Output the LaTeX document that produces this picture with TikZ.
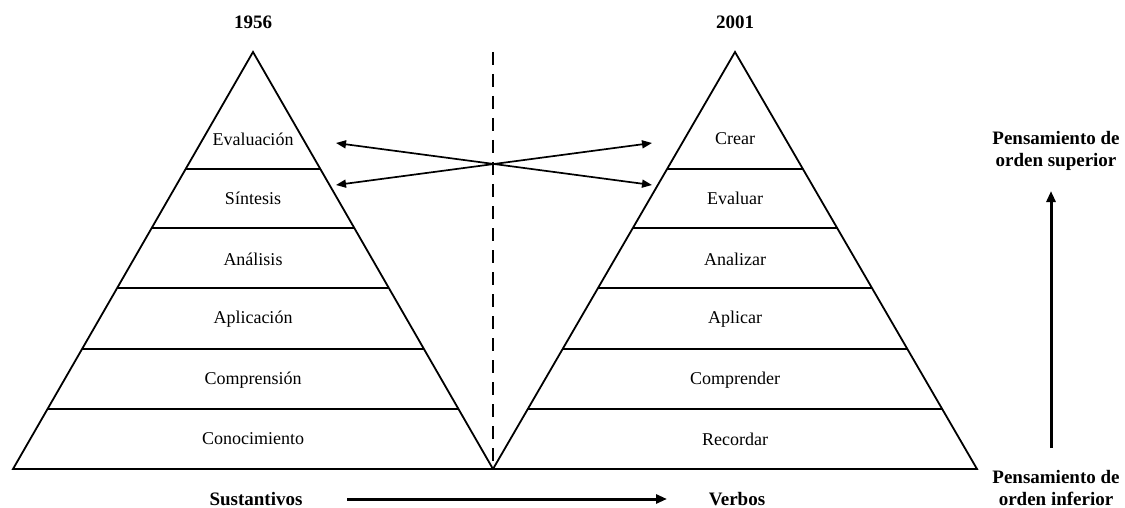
\documentclass[tikz,border=0pt]{standalone}
\usepackage{fontspec}
\setmainfont{Liberation Serif}
\usetikzlibrary{arrows.meta}
\begin{document}
\begin{tikzpicture}[x=1pt,y=-1pt,
  edge/.style={line width=1.8pt,line join=miter},
  level/.style={font=\fontsize{18}{20}\selectfont,inner sep=0pt},
  heading/.style={font=\fontsize{19}{22}\selectfont\bfseries,inner sep=0pt,align=center},
  link/.style={line width=1.7pt,{Triangle[length=10pt,width=8pt]}-{Triangle[length=10pt,width=8pt]}},
  trend/.style={line width=3pt,-{Triangle[length=11pt,width=9pt]}}]
\useasboundingbox (0,0) rectangle (1125,508);
% pyramids: apex, base ends
\coordinate (la) at (253,52);
\coordinate (ll) at (13,469);
\coordinate (lr) at (493,469);
\coordinate (ra) at (735,52);
\coordinate (rl) at (493,469);
\coordinate (rr) at (977,469);
\draw[edge] (ll) -- (la) -- (lr) -- cycle;
\draw[edge] (rl) -- (ra) -- (rr) -- cycle;
% level separators
\foreach \y in {169,228,288,349,409} {
  \pgfmathsetmacro\hl{(240/417)*(\y-52)}
  \pgfmathsetmacro\hr{(242/417)*(\y-52)}
  \draw[edge] (253-\hl,\y) -- (253+\hl,\y);
  \draw[edge] (735-\hr,\y) -- (735+\hr,\y);
}
% dashed divider
\coordinate (dt) at (493,52);
\draw[line width=1.8pt,dash pattern=on 13pt off 9pt] (dt) -- (lr);
% titles
\node[heading] (y1) at (253,22) {1956};
\node[heading] (y2) at (735,22) {2001};
% level labels
\node[level] (l1) at (253,139) {Evaluación};
\node[level] (l2) at (253,198) {Síntesis};
\node[level] (l3) at (253,259) {Análisis};
\node[level] (l4) at (253,319) {Aplicación};
\node[level] (l5) at (253,380) {Comprensión};
\node[level] (l6) at (253,439) {Conocimiento};
\node[level] (r1) at (735,139) {Crear};
\node[level] (r2) at (735,198) {Evaluar};
\node[level] (r3) at (735,259) {Analizar};
\node[level] (r4) at (735,319) {Aplicar};
\node[level] (r5) at (735,380) {Comprender};
\node[level] (r6) at (735,439) {Recordar};
% crossed correspondence arrows
\coordinate (ea) at (336,143);
\coordinate (sa) at (336,185);
\coordinate (cb) at (652,143);
\coordinate (eb) at (652,185);
\draw[link] (ea) -- (eb);
\draw[link] (sa) -- (cb);
% bottom labels and arrow
\node[heading] (sus) at (256,499) {Sustantivos};
\node[heading] (ver) at (737,499) {Verbos};
\coordinate (s0) at (347,499);
\coordinate (s1) at (667,499);
\draw[trend] (s0) -- (s1);
% order of thinking
\node[heading] (sup) at (1056,151) {Pensamiento de\\orden superior};
\node[heading] (inf) at (1056,488) {Pensamiento de\\orden inferior};
\coordinate (v0) at (1051,448);
\coordinate (v1) at (1051,191);
\draw[trend] (v0) -- (v1);
\end{tikzpicture}
\end{document}
